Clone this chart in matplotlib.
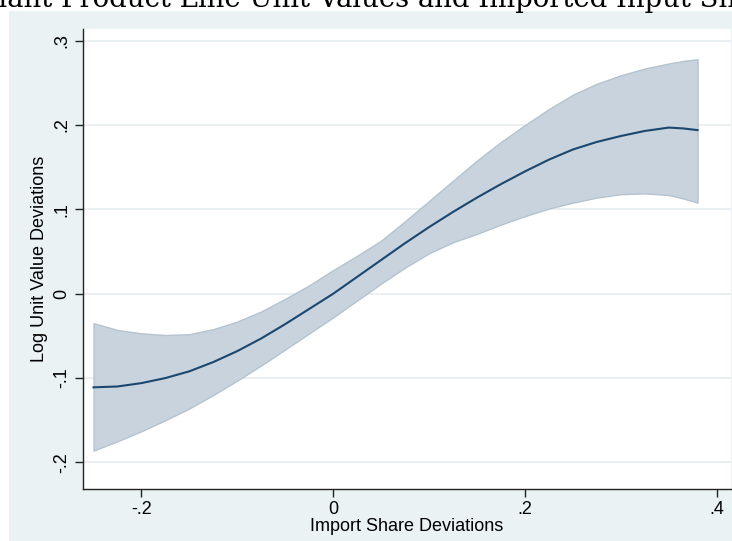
import numpy as np
import matplotlib.pyplot as plt
from matplotlib.patches import Rectangle

# local fit of log unit value on import share, with 95% band
share = [-0.25, -0.225, -0.2, -0.175, -0.15, -0.125, -0.1, -0.075, -0.05, -0.025,
         0.0, 0.025, 0.05, 0.075, 0.1, 0.125, 0.15, 0.175, 0.2, 0.225,
         0.25, 0.275, 0.3, 0.325, 0.35, 0.365, 0.38]
fit = [-0.111, -0.110, -0.106, -0.100, -0.092, -0.081, -0.068, -0.053, -0.036, -0.018,
       0.000, 0.020, 0.040, 0.060, 0.079, 0.097, 0.114, 0.130, 0.145, 0.159,
       0.171, 0.180, 0.187, 0.193, 0.197, 0.196, 0.194]
upper = [-0.035, -0.043, -0.047, -0.049, -0.048, -0.042, -0.033, -0.021, -0.006, 0.010,
         0.028, 0.045, 0.063, 0.086, 0.110, 0.134, 0.158, 0.180, 0.200, 0.219,
         0.236, 0.249, 0.259, 0.267, 0.273, 0.276, 0.278]
lower = [-0.186, -0.175, -0.163, -0.150, -0.136, -0.120, -0.103, -0.085, -0.066, -0.047,
         -0.028, -0.008, 0.012, 0.031, 0.048, 0.061, 0.071, 0.082, 0.092, 0.101,
         0.108, 0.114, 0.118, 0.119, 0.117, 0.113, 0.108]

xticks = [-0.2, 0.0, 0.2, 0.4]
xticklabels = ['-.2', '0', '.2', '.4']
yticks = [-0.2, -0.1, 0.0, 0.1, 0.2, 0.3]
yticklabels = ['-.2', '-.1', '0', '.1', '.2', '.3']

W, H = 732, 541
bg = '#eaf2f3'
navy = '#1a476f'

plt.rcParams['font.family'] = ['Liberation Sans', 'DejaVu Sans']

fig = plt.figure(figsize=(W / 100, H / 100), dpi=100, facecolor='white')

# graph region background
fig.patches.append(Rectangle((9 / W, 0), 1, 1 - 11 / H, transform=fig.transFigure,
                             facecolor=bg, edgecolor='none', zorder=-10))

fig.text(-20 / W, 1 - 7 / H, 'Plant Product Line Unit Values and Imported Input Shares',
         ha='left', va='baseline', fontsize=19.8, family=['DejaVu Serif'])

left, right, top, bottom = 83, 731, 29, 488.6
ax = fig.add_axes([left / W, 1 - bottom / H, (right - left) / W, (bottom - top) / H])
ax.set_zorder(1)
ax.set_facecolor('white')

ax.fill_between(share, lower, upper, facecolor='#c8d3dd', edgecolor='#b4c3cf', linewidth=1.0, zorder=2)
ax.plot(share, fit, color=navy, linewidth=1.5, zorder=3)

ax.set_xlim(-0.2610, 0.4149)
ax.set_ylim(-0.2311, 0.3139)

ax.set_xticks(xticks)
ax.set_xticklabels(xticklabels)
ax.set_yticks(yticks)
ax.set_yticklabels(yticklabels, rotation=90, va='center')
ax.yaxis.grid(True, color='#e6eeef', linewidth=1.2, zorder=1)
ax.set_axisbelow(True)

for s in ['top', 'right']:
    ax.spines[s].set_visible(False)
for s in ['left', 'bottom']:
    ax.spines[s].set_linewidth(1.0)
    ax.spines[s].set_color('#222222')

ax.tick_params(axis='both', direction='out', length=6, width=1.0, color='#222222',
               labelsize=13, pad=3)
ax.set_xlabel('Import Share Deviations', fontsize=13, labelpad=0)
ax.set_ylabel('Log Unit Value Deviations', fontsize=13, labelpad=4)

fig.savefig('out.png', dpi=100, facecolor=fig.get_facecolor())
